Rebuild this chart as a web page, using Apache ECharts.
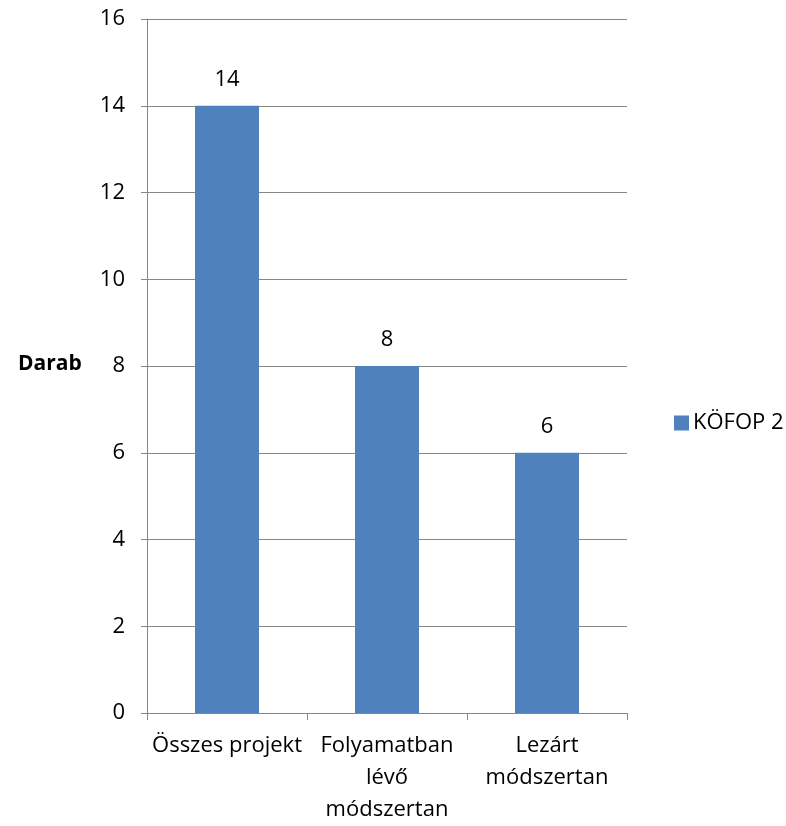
<!DOCTYPE html>
<html>
<head>
<meta charset="utf-8">
<script src="https://cdn.jsdelivr.net/npm/echarts@6/dist/echarts.min.js"></script>
<style>html,body{margin:0;padding:0;background:#fff;overflow:hidden;width:786px;height:826px}#c{width:786px;height:826px}</style>
</head>
<body>
<div id="c"></div>
<script>
var categories = ['Összes projekt', 'Folyamatban\nlévő\nmódszertan', 'Lezárt\nmódszertan'];
var seriesName = 'KÖFOP 2';
var values = [14, 8, 6];
var yAxisTitle = 'Darab';

var FONT = 'Open Sans';
var chart = echarts.init(document.getElementById('c'));
chart.setOption({
  animation: false,
  textStyle: { fontFamily: FONT },
  grid: { left: 147, top: 19, width: 480, height: 700, containLabel: false },
  legend: {
    data: [seriesName], left: 669, top: 407, itemWidth: 15, itemHeight: 15, itemGap: 6,
    textStyle: { fontFamily: FONT, fontSize: 22, color: '#000', padding: [0, 0, 0, -1] }, icon: 'rect'
  },
  graphic: [{
    type: 'text', left: 18, top: 354,
    style: { text: yAxisTitle, font: 'bold 21px "Open Sans"', fill: '#000' }
  }],
  xAxis: {
    type: 'category', data: categories,
    axisLine: { lineStyle: { color: '#868686', width: 1 } },
    axisTick: { show: true, alignWithLabel: false, length: 7, lineStyle: { color: '#868686' } },
    axisLabel: { color: '#000', fontSize: 22, fontFamily: FONT, margin: 17, lineHeight: 32, interval: 0 }
  },
  yAxis: {
    type: 'value', min: 0, max: 16, interval: 2,
    axisLine: { show: true, lineStyle: { color: '#868686', width: 1 } },
    axisTick: { show: true, length: 6, lineStyle: { color: '#868686' } },
    splitLine: { show: true, lineStyle: { color: '#868686', width: 1 } },
    axisLabel: { color: '#000', fontSize: 22, fontFamily: FONT, margin: 22 }
  },
  series: [{
    name: seriesName, type: 'bar', data: values, barWidth: 64,
    itemStyle: { color: '#4F81BD' },
    label: { show: true, position: 'top', distance: 15, color: '#000', fontSize: 22, fontFamily: FONT }
  }]
});
</script>
</body>
</html>
